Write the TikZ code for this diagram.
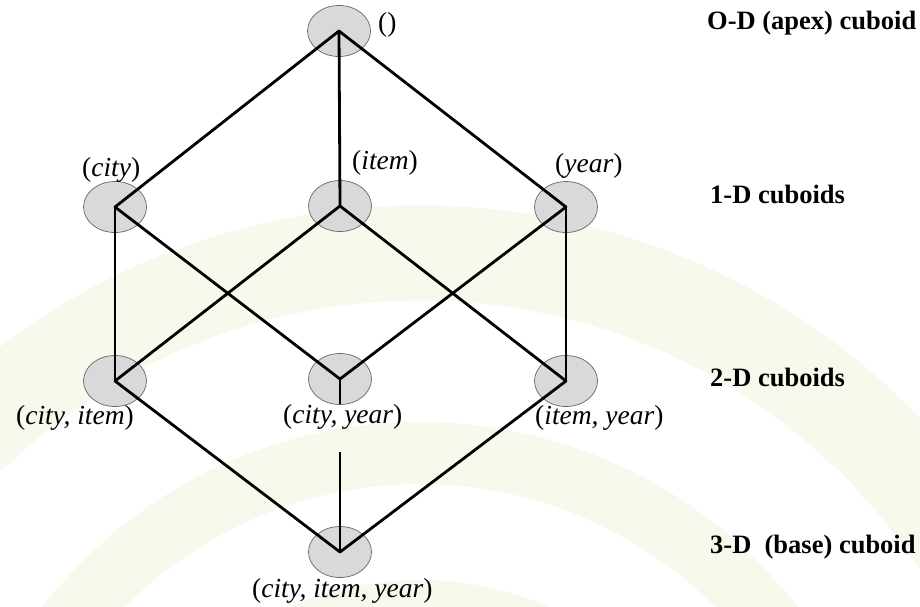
\documentclass[tikz,border=0pt]{standalone}
\usepackage{fontspec}
\setmainfont{Liberation Serif}
\usetikzlibrary{shapes.geometric}
\definecolor{cubfill}{HTML}{D9D9DC}
\definecolor{wm}{HTML}{F6F9EB}
\newcommand{\up}[1]{\textup{#1}}
\begin{document}
\begin{tikzpicture}[x=1pt,y=-1pt,
  cub/.style={ellipse, draw=black!60, line width=0.7pt, fill=cubfill,
              minimum width=63pt, minimum height=51pt, inner sep=0pt},
  edge/.style={line width=2.8pt, line cap=round, line join=round},
  thinedge/.style={line width=1.4pt},
  lab/.style={font=\fontsize{27.5}{30}\selectfont\itshape, inner sep=0pt, anchor=base west},
  lvl/.style={font=\fontsize{26.5}{30}\selectfont\bfseries, inner sep=0pt, anchor=base west}]
% canvas
\fill[white] (0,0) rectangle (920,606);
\useasboundingbox (0,0) rectangle (920,606);
% faint watermark rings
\begin{scope}
\clip (0,0) rectangle (920,606);
\draw[wm, line width=95pt] (420,900) circle[radius=647];
\draw[wm, line width=62pt] (420,900) circle[radius=447];
\draw[wm, line width=60pt] (420,900) circle[radius=290];
\end{scope}
% cuboid nodes
\node[cub] (apex) at (339,31) {};
\node[cub] (c)  at (115,207) {};
\node[cub] (i)  at (340,206) {};
\node[cub] (y)  at (566,207) {};
\node[cub] (ci) at (115,381) {};
\node[cub] (cy) at (340,379) {};
\node[cub] (iy) at (566,381) {};
\node[cub] (base) at (340,552) {};
% labels
\node[lab] (lapex) at (378,31) {\up{()}};
\node[lab] (lc)  at (82,176) {\up{(}city\up{)}};
\node[lab] (li)  at (352,169) {\up{(}item\up{)}};
\node[lab] (ly)  at (555,172) {\up{(}year\up{)}};
\node[lab] (lci) at (16,424) {\up{(}city, item\up{)}};
\node[lab] (lcy) at (283,423) {\up{(}city, year\up{)}};
\node[lab] (liy) at (535,424) {\up{(}item, year\up{)}};
\node[lab] (lbase) at (252,597) {\up{(}city, item, year\up{)}};
% level captions
\node[lvl] (t0) at (707,29) {O-D (apex) cuboid};
\node[lvl] (t1) at (710,203) {1-D cuboids};
\node[lvl] (t2) at (710,386) {2-D cuboids};
\node[lvl] (t3) at (710,553) {3-D\ \ (base) cuboid};
% connectors
\draw[edge] (apex.center) -- (c.center);
\draw[edge] (apex.center) -- (i.center);
\draw[edge] (apex.center) -- (y.center);
\draw[thinedge] (c.center) -- (ci.center);
\draw[edge] (c.center) -- (cy.center);
\draw[edge] (i.center) -- (ci.center);
\draw[edge] (i.center) -- (iy.center);
\draw[edge] (y.center) -- (cy.center);
\draw[thinedge] (y.center) -- (iy.center);
\draw[edge] (ci.center) -- (base.center);
\draw[edge] (iy.center) -- (base.center);
\draw[thinedge] (cy.center) -- (lcy.north -| cy.center);
\coordinate (cyb) at (340,452);
\draw[line width=2.2pt] (cyb) -- (base.center);
\end{tikzpicture}
\end{document}
